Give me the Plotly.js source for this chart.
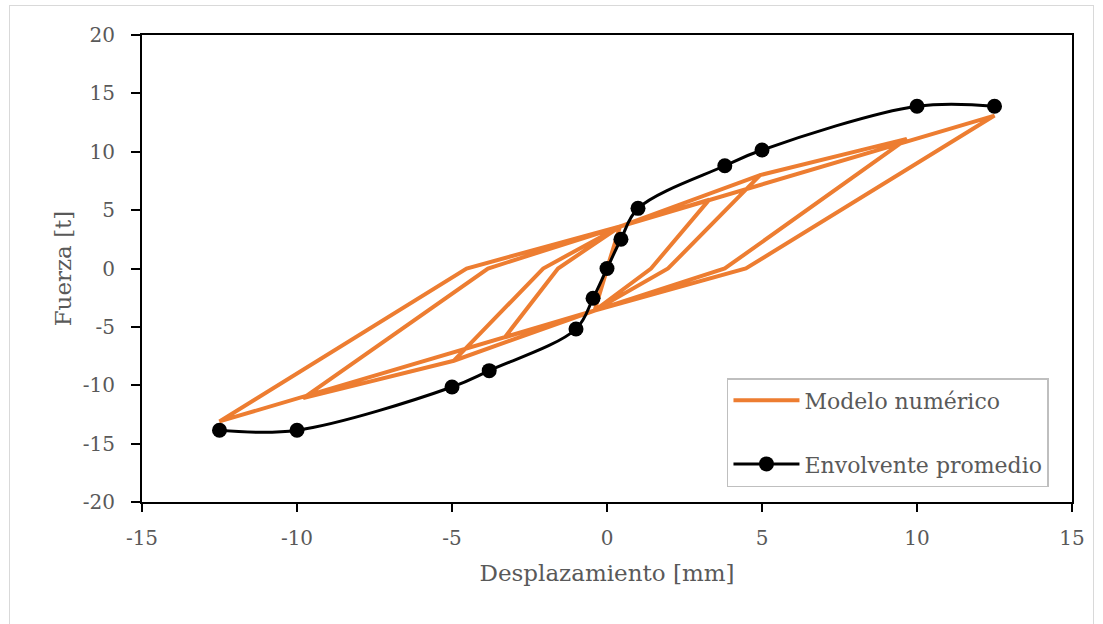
<!DOCTYPE html>
<html>
<head>
<meta charset="utf-8">
<script src="https://cdn.plot.ly/plotly-3.0.1.min.js"></script>
<style>
  html, body { margin: 0; padding: 0; background: #ffffff; }
  #frame { position: absolute; left: 9px; top: 5px; width: 1085px; height: 640px; border: 1.5px solid #d9d9d9; box-sizing: border-box; }
  #chart { position: absolute; left: 0; top: 0; width: 1103px; height: 624px; }
</style>
</head>
<body>
<div id="frame"></div>
<div id="chart"></div>
<script>
// Numerical model (hysteresis path)
const modelX = [0, 0.42, -0.4, 0.42, 3.3, 1.42, -0.4, -3.3, -1.58, 0.42, 4.94, 1.97, -0.4, -4.94, -2.06, 0.42, 4.94, 9.67, 3.8, -0.4, -4.94, -9.8, -3.84, 0.42, 12.5, 4.48, -0.4, -12.5, -4.53, 0.42, 12.5];
const modelY = [0, 3.6, -3.6, 3.6, 5.9, 0, -3.6, -5.9, 0, 3.6, 8.0, 0, -3.6, -7.9, 0, 3.6, 8.0, 11.1, 0, -3.6, -7.9, -11.1, 0, 3.6, 13.1, 0, -3.6, -13.1, 0, 3.6, 13.1];

// Average envelope
const envX = [-12.5, -10, -5, -3.8, -1, -0.45, 0, 0.45, 1, 3.8, 5, 10, 12.5];
const envY = [-13.85, -13.85, -10.15, -8.75, -5.18, -2.55, 0, 2.5, 5.15, 8.8, 10.15, 13.9, 13.9];

const xTicks = [-15, -10, -5, 0, 5, 10, 15];
const yTicks = [-20, -15, -10, -5, 0, 5, 10, 15, 20];

const FONT = 'DejaVu Serif, Liberation Serif, serif';
const GREY = '#595959';

const traces = [
  {
    x: modelX, y: modelY, type: 'scatter', mode: 'lines',
    name: 'Modelo numérico', legendgroup: 'a',
    line: { color: '#ED7D31', width: 4 }
  },
  {
    x: envX, y: envY, type: 'scatter', mode: 'lines+markers',
    name: 'Envolvente promedio', legendgroup: 'b',
    line: { color: '#000000', width: 3, shape: 'spline', smoothing: 1 },
    marker: { color: '#000000', size: 15 }
  }
];

const layout = {
  width: 1103, height: 624,
  margin: { l: 142, r: 31, t: 35, b: 122 },
  paper_bgcolor: 'rgba(0,0,0,0)',
  plot_bgcolor: '#ffffff',
  font: { family: FONT, color: GREY, size: 20 },
  xaxis: {
    range: [-15, 15], tickvals: xTicks, ticktext: xTicks.map(String),
    showgrid: false, zeroline: false,
    showline: true, linecolor: '#000000', linewidth: 2, mirror: true,
    ticks: 'outside', ticklen: 8, tickwidth: 2, tickcolor: '#000000',
    ticklabelstandoff: 9,
    tickfont: { family: FONT, color: GREY, size: 20 },
    title: { text: 'Desplazamiento [mm]', font: { family: FONT, color: GREY, size: 23 }, standoff: 16 }
  },
  yaxis: {
    range: [-20, 20], tickvals: yTicks, ticktext: yTicks.map(String),
    showgrid: false, zeroline: false,
    showline: true, linecolor: '#000000', linewidth: 2, mirror: true,
    ticks: 'outside', ticklen: 9, tickwidth: 2, tickcolor: '#000000',
    ticklabelstandoff: 12,
    tickfont: { family: FONT, color: GREY, size: 20 },
    title: { text: 'Fuerza [t]', font: { family: FONT, color: GREY, size: 23 }, standoff: 5 }
  },
  showlegend: true,
  legend: {
    x: 0.629, y: 0.2655, xanchor: 'left', yanchor: 'top',
    bgcolor: '#ffffff', bordercolor: '#bfbfbf', borderwidth: 1.5,
    font: { family: FONT, color: GREY, size: 22 },
    traceorder: 'grouped', tracegroupgap: 32, itemwidth: 66
  }
};

Plotly.newPlot('chart', traces, layout, { displayModeBar: false, staticPlot: true });
</script>
</body>
</html>
